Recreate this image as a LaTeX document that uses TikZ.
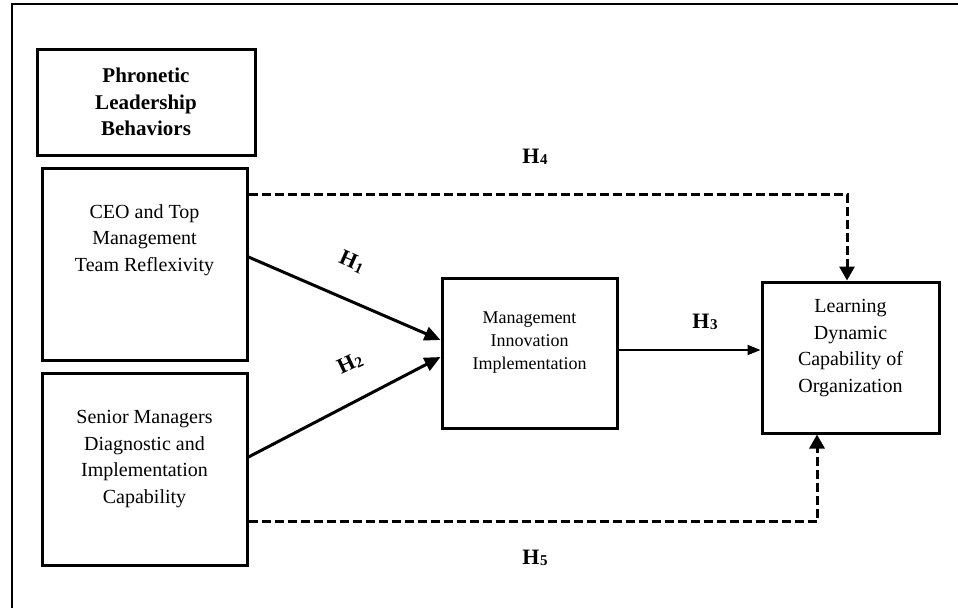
\documentclass[tikz,border=0pt]{standalone}
\usepackage{fontspec}
\setmainfont{Liberation Serif}
\usetikzlibrary{arrows.meta}
\tikzset{
  box/.style={draw, line width=3pt, rectangle, inner sep=0pt},
  txt/.style={align=center, font=\fontsize{20}{26.6}\selectfont},
  conn/.style={line width=3pt, -{Triangle[length=16pt,width=14pt]}},
  dconn/.style={line width=3pt, dash pattern=on 9pt off 4pt, -{Triangle[length=14pt,width=15pt]}},
  hlab/.style={font=\fontsize{22}{24}\selectfont\bfseries}
}
\newcommand{\Hyp}[1]{H\kern0.5pt\raisebox{-1.5pt}{\fontsize{15}{15}\selectfont #1}}
\begin{document}
\begin{tikzpicture}[x=1pt,y=-1pt]
\useasboundingbox (0,0) rectangle (958,608);
% outer frame (partly cropped)
\draw[line width=2pt] (12,608) -- (12,3.5) -- (958,3.5);
% boxes
\node[box, minimum width=218pt, minimum height=106pt] (phr) at (146,102) {};
\node[box, minimum width=205pt, minimum height=192pt] (ceo) at (144.5,264) {};
\node[box, minimum width=205pt, minimum height=192pt] (sen) at (144.5,469) {};
\node[box, minimum width=175pt, minimum height=150pt] (mii) at (529.5,353) {};
\node[box, minimum width=177pt, minimum height=151pt] (ldc) at (850.5,357.5) {};
% texts
\node[txt, font=\fontsize{21}{26.6}\selectfont\bfseries] (phrt) at (146,102) {Phronetic\\Leadership\\Behaviors};
\node[txt] (ceot) at (144.5,240) {CEO and Top\\Management\\Team Reflexivity};
\node[txt] (sent) at (144.5,459) {Senior Managers\\Diagnostic and\\Implementation\\Capability};
\node[txt, font=\fontsize{18}{23}\selectfont] (miit) at (529.5,343) {Management\\Innovation\\Implementation};
\node[txt] (ldct) at (850.5,348) {Learning\\Dynamic\\Capability of\\Organization};
% helper coordinates
\coordinate (h4y) at (0,194);
\coordinate (h5y) at (0,521);
% connectors
\draw[conn] ([yshift=7pt]ceo.east) -- ([yshift=13pt]mii.west);
\draw[conn] ([yshift=12pt]sen.east) -- ([yshift=-4pt]mii.west);
\draw[line width=2pt, -{Triangle[length=13pt,width=10pt]}] ([yshift=3pt]mii.east) -- ([yshift=3pt]mii.east -| ldc.west);
\draw[dconn] (ceo.east |- h4y) -| ([xshift=-3.5pt]ldc.north);
\draw[dconn] (sen.east |- h5y) -| ([xshift=-33.5pt]ldc.south);
% labels
\node[hlab] (l4) at (535,157) {\Hyp{4}};
\node[hlab] (l3) at (705,322) {\Hyp{3}};
\node[hlab] (l5) at (535,558) {\Hyp{5}};
\node[hlab, rotate=-24] (l1) at (352,262) {\Hyp{1}};
\node[hlab, rotate=25] (l2) at (350,363) {\Hyp{2}};
\end{tikzpicture}
\end{document}
